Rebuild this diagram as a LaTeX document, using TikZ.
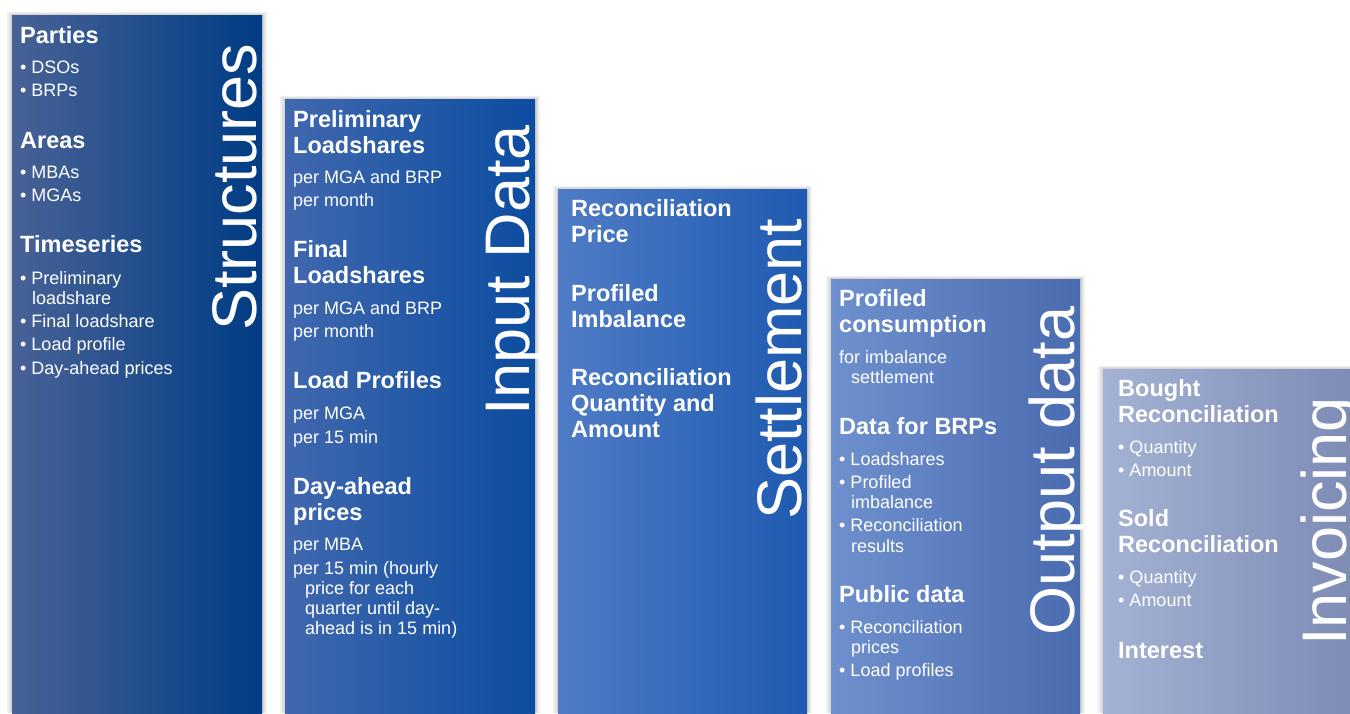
\documentclass[tikz,border=0pt]{standalone}
\usepackage{fontspec}
\setmainfont{Liberation Sans}
\begin{document}
\begin{tikzpicture}[x=1pt,y=-1pt,
  hd/.style={anchor=base west,inner sep=0pt,text=white,font=\fontsize{23.5}{26}\selectfont\bfseries},
  bd/.style={anchor=base west,inner sep=0pt,text=white,font=\fontsize{18}{22}\selectfont},
  ttl/.style={anchor=base west,inner sep=0pt,text=white,rotate=90,font=\fontsize{63}{70}\selectfont},
  shd/.style={fill=black,opacity=0.06,draw=none}]
\useasboundingbox (0,0) rectangle (1350,713);
\clip (0,0) rectangle (1350,713);
\fill[white] (0,0) rectangle (1350,713);

% column shadows
\foreach \xa/\xb/\yt in {12/262/15,285/535/99,558/807/189,831/1080/279,1103/1350/369}{
  \fill[shd] (\xa-5,\yt-3) rectangle (\xb+5,713);
  \fill[shd] (\xa-3,\yt-2) rectangle (\xb+3,713);
  \fill[shd] (\xa-1.5,\yt-1) rectangle (\xb+1.5,713);
}
% columns
\shade[left color={rgb,255:red,72;green,98;blue,150},middle color={rgb,255:red,2;green,74;blue,144},right color={rgb,255:red,0;green,60;blue,132}]
  (12,15) rectangle (262,713);
\shade[left color={rgb,255:red,64;green,104;blue,174},middle color={rgb,255:red,26;green,90;blue,176},right color={rgb,255:red,12;green,76;blue,160}]
  (285,99) rectangle (535,713);
\shade[left color={rgb,255:red,80;green,124;blue,198},middle color={rgb,255:red,46;green,108;blue,198},right color={rgb,255:red,30;green,90;blue,176}]
  (558,189) rectangle (807,713);
\shade[left color={rgb,255:red,110;green,144;blue,206},middle color={rgb,255:red,90;green,128;blue,194},right color={rgb,255:red,74;green,108;blue,176}]
  (831,279) rectangle (1080,713);
\shade[left color={rgb,255:red,164;green,178;blue,212},middle color={rgb,255:red,142;green,156;blue,196},right color={rgb,255:red,126;green,140;blue,182}]
  (1103,369) rectangle (1350,713);

% titles
\node[ttl] (t1) at (256,331) {Structures};
\node[ttl] (t2) at (529,416) {Input Data};
\node[ttl] (t3) at (801,520) {Settlement};
\node[ttl] (t4) at (1074,636) {Output data};
\node[ttl] (t5) at (1346,646) {Invoicing};

% column 1
\node[hd] (a1) at (20,43) {Parties};
\node[bd] (a2) at (20,73) {• DSOs};
\node[bd] (a3) at (20,96) {• BRPs};
\node[hd] (a4) at (20,148) {Areas};
\node[bd] (a5) at (20,178) {• MBAs};
\node[bd] (a6) at (20,201) {• MGAs};
\node[hd] (a7) at (20,252) {Timeseries};
\node[bd] (a8) at (20,284) {• Preliminary};
\node[bd] (a9) at (32,304) {loadshare};
\node[bd] (a10) at (20,327) {• Final loadshare};
\node[bd] (a11) at (20,350) {• Load profile};
\node[bd] (a12) at (20,374) {• Day-ahead prices};

% column 2
\node[hd] (b1) at (293,127) {Preliminary};
\node[hd] (b2) at (293,153) {Loadshares};
\node[bd] (b3) at (293,183) {per MGA and BRP};
\node[bd] (b4) at (293,206) {per month};
\node[hd] (b5) at (293,257) {Final};
\node[hd] (b6) at (293,283) {Loadshares};
\node[bd] (b7) at (293,314) {per MGA and BRP};
\node[bd] (b8) at (293,337) {per month};
\node[hd] (b9) at (293,388) {Load Profiles};
\node[bd] (b10) at (293,419) {per MGA};
\node[bd] (b11) at (293,443) {per 15 min};
\node[hd] (b12) at (293,494) {Day-ahead};
\node[hd] (b13) at (293,520) {prices};
\node[bd] (b14) at (293,550) {per MBA};
\node[bd] (b15) at (293,574) {per 15 min (hourly};
\node[bd] (b16) at (305,594) {price for each};
\node[bd] (b17) at (305,614) {quarter until day-};
\node[bd] (b18) at (305,634) {ahead is in 15 min)};

% column 3
\node[hd] (c1) at (571,216) {Reconciliation};
\node[hd] (c2) at (571,242) {Price};
\node[hd] (c3) at (571,301) {Profiled};
\node[hd] (c4) at (571,327) {Imbalance};
\node[hd] (c5) at (571,385) {Reconciliation};
\node[hd] (c6) at (571,411) {Quantity and};
\node[hd] (c7) at (571,437) {Amount};

% column 4
\node[hd] (d1) at (839,306) {Profiled};
\node[hd] (d2) at (839,332) {consumption};
\node[bd] (d3) at (839,363) {for imbalance};
\node[bd] (d4) at (851,383) {settlement};
\node[hd] (d5) at (839,434) {Data for BRPs};
\node[bd] (d6) at (839,465) {• Loadshares};
\node[bd] (d7) at (839,488) {• Profiled};
\node[bd] (d8) at (851,508) {imbalance};
\node[bd] (d9) at (839,531) {• Reconciliation};
\node[bd] (d10) at (851,552) {results};
\node[hd] (d11) at (839,602) {Public data};
\node[bd] (d12) at (839,633) {• Reconciliation};
\node[bd] (d13) at (851,653) {prices};
\node[bd] (d14) at (839,676) {• Load profiles};

% column 5
\node[hd] (e1) at (1118,396) {Bought};
\node[hd] (e2) at (1118,422) {Reconciliation};
\node[bd] (e3) at (1118,453) {• Quantity};
\node[bd] (e4) at (1118,476) {• Amount};
\node[hd] (e5) at (1118,526) {Sold};
\node[hd] (e6) at (1118,552) {Reconciliation};
\node[bd] (e7) at (1118,583) {• Quantity};
\node[bd] (e8) at (1118,606) {• Amount};
\node[hd] (e9) at (1118,658) {Interest};
\end{tikzpicture}
\end{document}
